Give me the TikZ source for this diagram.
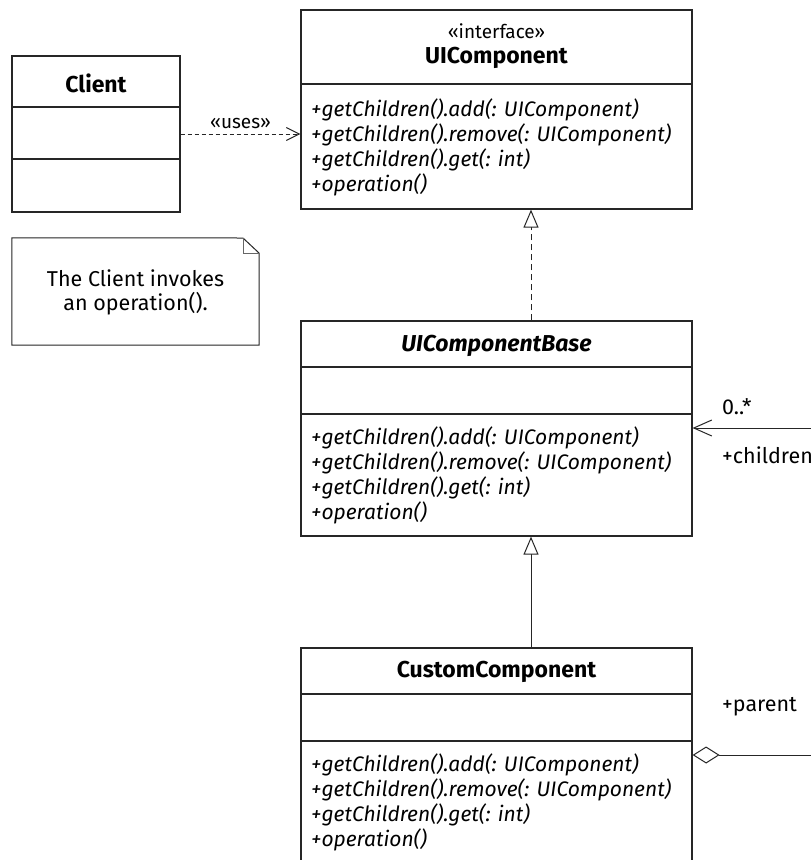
\documentclass[tikz,border=0pt]{standalone}
\usepackage{fontspec}
\setmainfont{Fira Sans}
\usetikzlibrary{arrows.meta}
\begin{document}
\begin{tikzpicture}[x=1pt,y=-1pt,
  line join=miter,
  classbox/.style={draw=black!85, line width=1.2pt, inner sep=0pt, fill=white},
  divider/.style={draw=black!85, line width=1.2pt},
  ctitle/.style={font=\fontsize{23}{26}\selectfont\bfseries, inner sep=0pt},
  stereo/.style={font=\fontsize{19}{22}\selectfont, inner sep=0pt},
  method/.style={font=\fontsize{21}{25}\selectfont\itshape, anchor=west, inner sep=0pt},
  plain/.style={font=\fontsize{21.5}{24}\selectfont, inner sep=0pt},
  connector/.style={draw=black!85, line width=1pt},
  usesarrow/.style={connector, dash pattern=on 4pt off 3pt, -{Straight Barb[length=13pt,width=13pt,line width=1pt]}},
  realizes/.style={connector, dash pattern=on 6pt off 4pt, -{Triangle[open, length=18pt, width=15pt, line width=1pt, fill=white]}},
  inherits/.style={connector, -{Triangle[open, length=18pt, width=15pt, line width=1pt, fill=white]}},
  navarrow/.style={connector, -{Straight Barb[length=18pt,width=16pt,line width=1pt]}},
  aggregate/.style={connector, -{Diamond[open, length=27pt, width=17pt, line width=1pt, fill=white]}},
]
\useasboundingbox (0,0) rectangle (811,860);
\clip (0,0) rectangle (811,860);
\fill[white] (0,0) rectangle (811,860);

% ---- Client ----
\node[classbox, minimum width=168pt, minimum height=156pt] (client) at (96,134) {};
\draw[divider] (12,107) -- (180,107);
\draw[divider] (12,159) -- (180,159);
\node[ctitle] (clientname) at (96,83) {Client};

% ---- UIComponent (interface) ----
\node[classbox, minimum width=391pt, minimum height=199pt] (uic) at (496.5,109.5) {};
\draw[divider] (301,84) -- (692,84);
\node[stereo] (uicstereo) at (496.5,31) {«interface»};
\node[ctitle] (uicname) at (496.5,58) {UIComponent};
\node[method] (uicm1) at (311,110) {+getChildren().add(: UIComponent)};
\node[method] (uicm2) at (311,135) {+getChildren().remove(: UIComponent)};
\node[method] (uicm3) at (311,160) {+getChildren().get(: int)};
\node[method] (uicm4) at (311,185) {+operation()};

% ---- Note ----
\node[plain, align=center, minimum width=247pt, minimum height=107pt] (note) at (135.5,291.5) {};
\node[plain, align=center] (notetext) at (135.5,292) {The Client invokes\\an operation().};
\draw[divider, line width=1pt] (note.north west) -- (243,238) -- (259,253) -- (note.south east -| 259,0)
  -- (note.south west) -- cycle;
\draw[draw=black!60, line width=1pt] (243,238) -- (243,253) -- (259,253);

% ---- UIComponentBase ----
\node[classbox, minimum width=391pt, minimum height=215pt] (base) at (496.5,428.5) {};
\draw[divider] (301,367) -- (692,367);
\draw[divider] (301,414) -- (692,414);
\node[ctitle, font=\fontsize{23}{26}\selectfont\bfseries\itshape] (basename) at (496.5,346) {UIComponentBase};
\node[method] (basem1) at (311,438) {+getChildren().add(: UIComponent)};
\node[method] (basem2) at (311,463) {+getChildren().remove(: UIComponent)};
\node[method] (basem3) at (311,488) {+getChildren().get(: int)};
\node[method] (basem4) at (311,513) {+operation()};

% ---- CustomComponent ----
\node[classbox, minimum width=391pt, minimum height=240pt] (custom) at (496.5,768) {};
\draw[divider] (301,694) -- (692,694);
\draw[divider] (301,741) -- (692,741);
\node[ctitle] (customname) at (496.5,672) {CustomComponent};
\node[method] (custm1) at (311,765) {+getChildren().add(: UIComponent)};
\node[method] (custm2) at (311,790) {+getChildren().remove(: UIComponent)};
\node[method] (custm3) at (311,815) {+getChildren().get(: int)};
\node[method] (custm4) at (311,840) {+operation()};

% ---- connectors ----
\draw[usesarrow] (client.east) -- (client.east -| uic.west)
  node[midway, above=5pt, stereo] (useslabel) {«uses»};

\coordinate (axis) at (531,0);
\draw[realizes] (base.north -| axis) -- (uic.south -| axis);
\draw[inherits] (custom.north -| axis) -- (base.south -| axis);

% self association leaving the picture on the right
\coordinate (childend) at (820,428);
\coordinate (parentend) at (820,755);
\draw[navarrow] (childend) -- (base.east |- childend);
\draw[aggregate] (parentend) -- (custom.east |- parentend);
\node[plain, anchor=west] (mult) at (722,407) {0..*};
\node[plain, anchor=west] (rolechildren) at (722,455) {+children};
\node[plain, anchor=west] (roleparent) at (722,707) {+parent};
\end{tikzpicture}
\end{document}
